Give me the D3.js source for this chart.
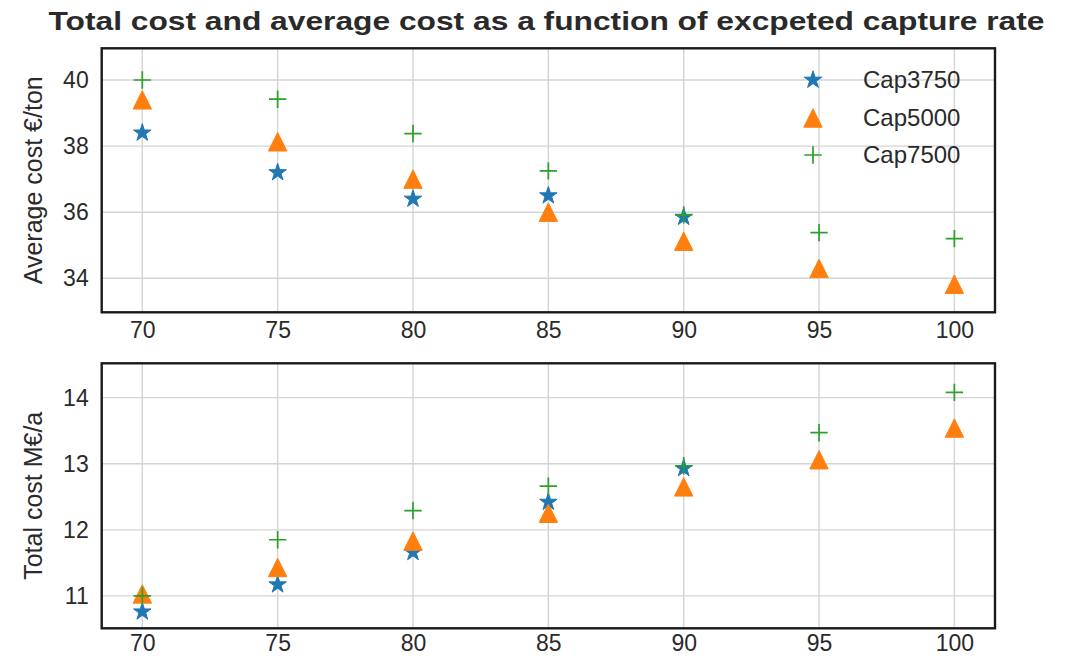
<!DOCTYPE html>
<html>
<head>
<meta charset="utf-8">
<script src="https://cdn.jsdelivr.net/npm/d3@7"></script>
<style>
  html, body { margin: 0; padding: 0; background: #fff; }
  svg { display: block; font-family: "Liberation Sans", Arial, sans-serif; }
</style>
</head>
<body>
<svg id="chart" width="1074" height="656"></svg>
<script>
// ---- data ----
const captureRates = [70, 75, 80, 85, 90, 95, 100];
const seriesNames = ["Cap3750", "Cap5000", "Cap7500"];
// Average cost €/ton (Cap3750 has no values at 95 and 100)
const avgCap3750 = [38.4, 37.2, 36.4, 36.5, 35.85, null, null];
const avgCap5000 = [39.4, 38.13, 37.0, 36.0, 35.12, 34.3, 33.82];
const avgCap7500 = [40.0, 39.42, 38.38, 37.25, 35.92, 35.38, 35.2];
// Total cost M€/a
const totCap3750 = [10.76, 11.17, 11.66, 12.42, 12.93, null, null];
const totCap5000 = [11.03, 11.43, 11.83, 12.25, 12.65, 13.06, 13.54];
const totCap7500 = [11.0, 11.85, 12.29, 12.66, 12.97, 13.47, 14.08];
const xTicks = [70, 75, 80, 85, 90, 95, 100];
const avgTicks = [34, 36, 38, 40];
const totTicks = [11, 12, 13, 14];
const titleText = "Total cost and average cost as a function of excpeted capture rate";
const avgLabel = "Average cost €/ton";
const totLabel = "Total cost M€/a";

// ---- layout ----
const svg = d3.select("#chart");
const L = 101.7, R = 995;
const colors = ["#1f77b4", "#ff7f0e", "#2ca02c"];
const textColor = "#2a2a2a";

function starPath(r) {
  const ri = r * 0.381966;
  const pts = [];
  for (let i = 0; i < 10; i++) {
    const a = -Math.PI / 2 + i * Math.PI / 5;
    const rr = i % 2 === 0 ? r : ri;
    pts.push([rr * Math.cos(a), rr * Math.sin(a)]);
  }
  return "M" + pts.map(p => p[0].toFixed(2) + "," + p[1].toFixed(2)).join("L") + "Z";
}
function triPath(r) {
  return `M0,${-r}L${-r},${r}L${r},${r}Z`;
}
function plusPath(r) {
  return `M${-r},0L${r},0M0,${-r}L0,${r}`;
}
function drawMarker(g, kind, x, y) {
  if (kind === 0) {
    g.append("path").attr("d", starPath(9.2)).attr("transform", `translate(${x},${y})`)
      .attr("fill", colors[0]).attr("stroke", colors[0]).attr("stroke-width", 1);
  } else if (kind === 1) {
    g.append("path").attr("d", triPath(9.2)).attr("transform", `translate(${x},${y})`)
      .attr("fill", colors[1]).attr("stroke", colors[1]).attr("stroke-width", 1);
  } else {
    g.append("path").attr("d", plusPath(8.7)).attr("transform", `translate(${x},${y})`)
      .attr("fill", "none").attr("stroke", colors[2]).attr("stroke-width", 1.7);
  }
}

function panel(top, bottom, yDomain, yTicks, series, yLabel, legend, xPad) {
  const x = d3.scaleLinear().domain([68.5, 101.5]).range([L, R]);
  const y = d3.scaleLinear().domain(yDomain).range([bottom, top]);
  const g = svg.append("g");

  // grid
  g.append("g").selectAll("line").data(xTicks).join("line")
    .attr("x1", d => x(d)).attr("x2", d => x(d)).attr("y1", top).attr("y2", bottom)
    .attr("stroke", "#d4d4d4").attr("stroke-width", 1.4);
  g.append("g").selectAll("line").data(yTicks).join("line")
    .attr("x1", L).attr("x2", R).attr("y1", d => y(d)).attr("y2", d => y(d))
    .attr("stroke", "#d4d4d4").attr("stroke-width", 1.4);

  // axes (labels only, no tick marks)
  const xa = g.append("g").attr("transform", `translate(0,${bottom})`)
    .call(d3.axisBottom(x).tickValues(xTicks).tickSize(0).tickPadding(xPad).tickFormat(d3.format("d")));
  xa.select(".domain").remove();
  xa.selectAll("text").attr("font-size", 23).attr("fill", textColor).attr("font-family", "Liberation Sans, Arial, sans-serif");
  const ya = g.append("g").attr("transform", `translate(${L},0)`)
    .call(d3.axisLeft(y).tickValues(yTicks).tickSize(0).tickPadding(13).tickFormat(d3.format("d")));
  ya.select(".domain").remove();
  ya.selectAll("text").attr("font-size", 23).attr("fill", textColor).attr("font-family", "Liberation Sans, Arial, sans-serif");

  // markers
  series.forEach((vals, si) => {
    vals.forEach((v, i) => {
      if (v === null) return;
      drawMarker(g, si, x(captureRates[i]), y(v));
    });
  });

  // frame
  g.append("rect").attr("x", L).attr("y", top).attr("width", R - L).attr("height", bottom - top)
    .attr("fill", "none").attr("stroke", "#1a1a1a").attr("stroke-width", 2.4);

  // y label
  g.append("text")
    .attr("transform", `translate(42,${(top + bottom) / 2}) rotate(-90)`)
    .attr("text-anchor", "middle").attr("font-size", 25).attr("fill", textColor)
    .text(yLabel);

  if (legend) {
    const rows = [80, 118, 155];
    seriesNames.forEach((name, i) => {
      drawMarker(g, i, 813, rows[i]);
      g.append("text").attr("x", 863).attr("y", rows[i]).attr("dy", "0.35em")
        .attr("font-size", 24).attr("fill", textColor).text(name);
    });
  }
}

panel(48.3, 312.3, [32.97, 40.96], avgTicks, [avgCap3750, avgCap5000, avgCap7500], avgLabel, true, 9.5);
panel(363.3, 628.3, [10.51, 14.52], totTicks, [totCap3750, totCap5000, totCap7500], totLabel, false, 6);

svg.append("text").attr("x", 546.5).attr("y", 29.5).attr("text-anchor", "middle")
  .attr("font-size", 26).attr("font-weight", "bold").attr("fill", textColor)
  .attr("textLength", 996).attr("lengthAdjust", "spacingAndGlyphs")
  .text(titleText);
</script>
</body>
</html>
